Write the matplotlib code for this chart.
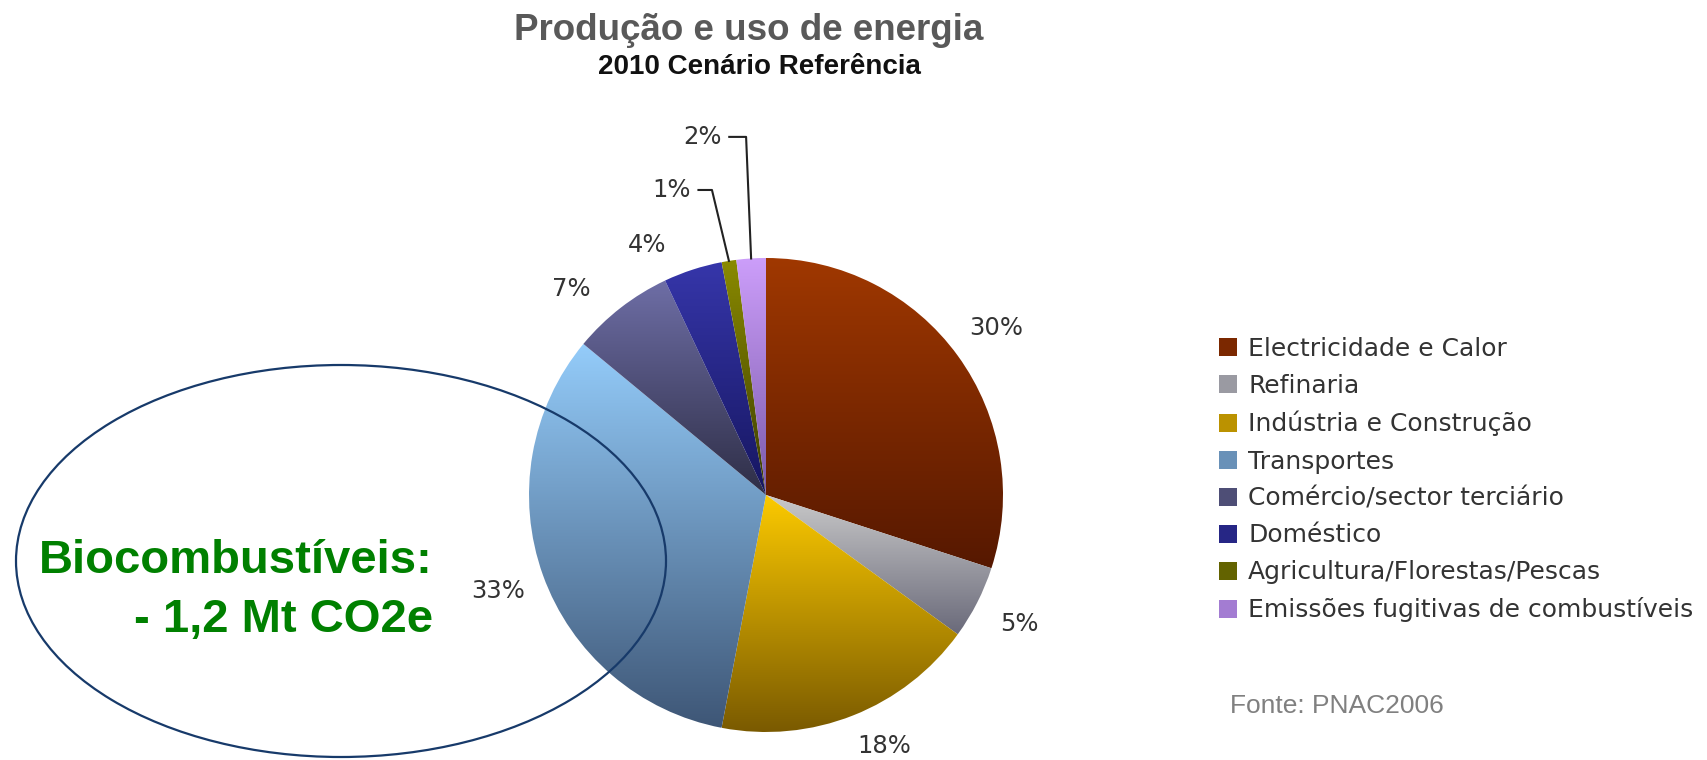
import numpy as np
import matplotlib
matplotlib.use('Agg')
import matplotlib.pyplot as plt
from matplotlib.patches import Ellipse, Patch
from matplotlib.colors import to_rgb

# data
sectors = ['Electricidade e Calor', 'Refinaria', 'Indústria e Construção', 'Transportes',
           'Comércio/sector terciário', 'Doméstico', 'Agricultura/Florestas/Pescas',
           'Emissões fugitivas de combustíveis']
shares = [30, 5, 18, 33, 7, 4, 1, 2]
pct_labels = ['30%', '5%', '18%', '33%', '7%', '4%', '1%', '2%']

# gradient colours per slice (top -> bottom)
top_colors = ['#a03800', '#cacaca', '#fcca00', '#94ccfa', '#6e6ea6', '#3636aa', '#8a8a00', '#cc9efa']
bottom_colors = ['#561800', '#6a6a7a', '#7a5a00', '#3e5676', '#2e2e46', '#161660', '#3c3c00', '#7a5aaa']

W, H = 1707, 760
fig = plt.figure(figsize=(W / 100, H / 100), dpi=100)

def fx(px):
    return px / W

def fy(py):
    return 1 - py / H

# pie axes: centre (766, 495), radius 237 px
cx, cy, R = 766, 495, 237
ax = fig.add_axes([fx(cx - R), fy(cy + R), 2 * R / W, 2 * R / H])
wedges, _ = ax.pie(shares, startangle=90, counterclock=False, radius=1,
                   wedgeprops=dict(linewidth=0))

for w, c0, c1 in zip(wedges, top_colors, bottom_colors):
    ext = w.get_path().get_extents()
    t = np.linspace(0, 1, 256)[:, None]
    grad = (1 - t) * np.array(to_rgb(c0)) + t * np.array(to_rgb(c1))
    img = ax.imshow(grad[:, None, :], extent=(ext.x0, ext.x1, ext.y0, ext.y1),
                    origin='upper', aspect='auto', interpolation='bilinear', zorder=1)
    img.set_clip_path(w)
    w.set_facecolor('none')

ax.set_xlim(-1, 1)
ax.set_ylim(-1, 1)
ax.set_aspect('equal')
ax.axis('off')

pct_font = dict(fontsize=17.5, color='#333333', family='DejaVu Sans')
# label placement tweaks (axes data units)
manual_pos = {2: (0.50, -1.06), 4: (-0.82, 0.87), 5: (-0.50, 1.055),
              6: (-0.40, 1.287), 7: (-0.27, 1.511)}
leader_corner = {6: (-0.228, 1.287), 7: (-0.084, 1.511)}

for i, w in enumerate(wedges):
    ang = np.deg2rad((w.theta1 + w.theta2) / 2)
    if i in manual_pos:
        x, y = manual_pos[i]
    else:
        x, y = 1.2 * np.cos(ang), 1.2 * np.sin(ang)
    ax.text(x, y, pct_labels[i], ha='center', va='center', **pct_font)
    if i in leader_corner:
        kx, ky = leader_corner[i]
        ex, ey = np.cos(ang), np.sin(ang)
        ax.plot([x + 0.115, kx, ex], [y, ky, ey], color='#222222', lw=1.5,
                clip_on=False, zorder=3)

# titles
fig.text(fx(749), fy(40), 'Produção e uso de energia', ha='center', va='baseline',
         fontsize=26.5, fontweight='bold', color='#595959', family='Liberation Sans')
fig.text(fx(759), fy(74), '2010 Cenário Referência', ha='center', va='baseline',
         fontsize=20, fontweight='bold', color='#111111', family='Liberation Sans')

# legend
handles = [Patch(facecolor=tuple((np.array(to_rgb(a)) + np.array(to_rgb(b))) / 2), edgecolor='none')
           for a, b in zip(top_colors, bottom_colors)]
fig.legend(handles, sectors, loc='upper left', bbox_to_anchor=(fx(1219), fy(337)),
           frameon=False, fontsize=18, handlelength=0.72, handleheight=0.72,
           handletextpad=0.45, labelspacing=0.52, borderpad=0, borderaxespad=0,
           labelcolor='#333333')

fig.text(fx(1230), fy(713), 'Fonte: PNAC2006', ha='left', va='baseline',
         fontsize=19, color='#808080', family='Liberation Sans')

# highlight ellipse and note
fig.add_artist(Ellipse((fx(341), fy(561)), 650 / W, 392 / H, transform=fig.transFigure,
                       fill=False, edgecolor='#173a6a', linewidth=1.6, zorder=5))
fig.text(fx(433), fy(573), 'Biocombustíveis:', ha='right', va='baseline',
         fontsize=34, fontweight='bold', color='#008000', family='Liberation Sans')
fig.text(fx(433), fy(632), '- 1,2 Mt CO2e', ha='right', va='baseline',
         fontsize=34, fontweight='bold', color='#008000', family='Liberation Sans')

fig.savefig('out.png', dpi=100)
